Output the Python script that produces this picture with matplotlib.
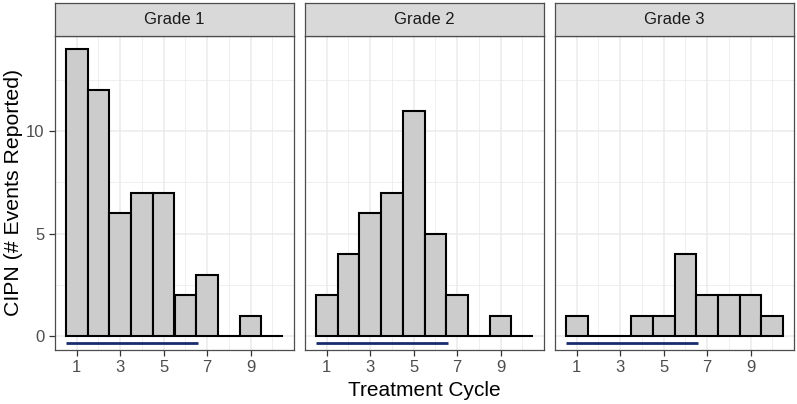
import numpy as np
import matplotlib
matplotlib.use("Agg")
from matplotlib import pyplot as plt
from matplotlib.ticker import FixedLocator

# data
cycles = [1, 2, 3, 4, 5, 6, 7, 8, 9, 10]
grades = ["Grade 1", "Grade 2", "Grade 3"]
grade1_counts = [14, 12, 6, 7, 7, 2, 3, 0, 1, 0]
grade2_counts = [2, 4, 6, 7, 11, 5, 2, 0, 1, 0]
grade3_counts = [1, 0, 0, 1, 1, 4, 2, 2, 2, 1]
counts = [grade1_counts, grade2_counts, grade3_counts]
# blue segment under each panel
line_start = 0.5
line_end = 6.6
line_y = -0.36

plt.rcParams['font.family'] = ['Liberation Sans', 'DejaVu Sans']

fig = plt.figure(figsize=(7.97, 4.04), dpi=100)
W, H = 797.0, 404.0

panel_left = [55, 305, 555]
panel_w = 239
panel_top = 36
panel_bottom = 350
strip_top = 3

for i in range(3):
    ax = fig.add_axes([panel_left[i] / W, 1 - panel_bottom / H,
                       panel_w / W, (panel_bottom - panel_top) / H])
    ax.set_xlim(0, 11)
    ax.set_ylim(-0.68, 14.65)
    ax.set_facecolor("white")

    ax.xaxis.set_major_locator(FixedLocator([1, 3, 5, 7, 9]))
    ax.xaxis.set_minor_locator(FixedLocator([2, 4, 6, 8, 10]))
    ax.yaxis.set_major_locator(FixedLocator([0, 5, 10]))
    ax.yaxis.set_minor_locator(FixedLocator([2.5, 7.5, 12.5]))
    ax.grid(which="major", color="#ebebeb", linewidth=1.1)
    ax.grid(which="minor", color="#ebebeb", linewidth=0.55)
    ax.set_axisbelow(True)

    ax.bar(cycles, counts[i], width=1.0, color="#cccccc",
           edgecolor="black", linewidth=1.5, zorder=3)
    ax.plot([line_start, line_end], [line_y, line_y], color="#1a2b6d",
            linewidth=2, solid_capstyle="butt", zorder=3)

    for s in ax.spines.values():
        s.set_color("#4d4d4d")
        s.set_linewidth(0.9)

    ax.tick_params(which="minor", length=0)
    ax.tick_params(which="major", length=4, color="#333333",
                   labelcolor="#4d4d4d", labelsize=12, width=0.9)
    if i > 0:
        ax.tick_params(axis="y", length=0, labelleft=False)

    # facet strip
    sax = fig.add_axes([panel_left[i] / W, 1 - panel_top / H,
                        panel_w / W, (panel_top - strip_top) / H])
    sax.set_facecolor("#d9d9d9")
    sax.set_xticks([])
    sax.set_yticks([])
    for s in sax.spines.values():
        s.set_color("#4d4d4d")
        s.set_linewidth(0.9)
    sax.text(0.5, 0.5, grades[i], ha="center", va="center",
             fontsize=12, color="#1a1a1a", transform=sax.transAxes)

fig.text(424 / W, 1 - 390 / H, "Treatment Cycle", ha="center", va="center",
         fontsize=15, color="black")
fig.text(14 / W, 1 - 192 / H, "CIPN (# Events Reported)", ha="center",
         va="center", rotation=90, fontsize=15.3, color="black")

fig.savefig("out.png", dpi=100)
